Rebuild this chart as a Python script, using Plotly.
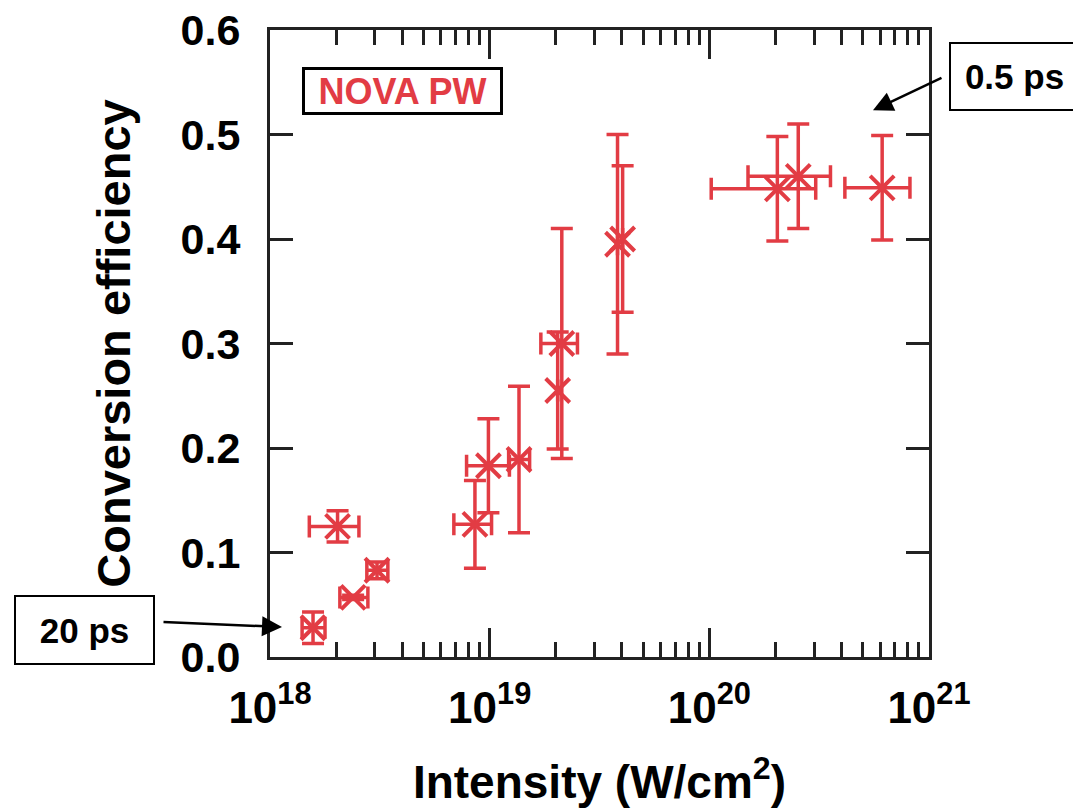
import plotly.graph_objects as go

# ---- data ----
intensity = [1.57e18, 2.03e18, 2.39e18, 3.07e18, 8.57e18, 9.87e18, 1.36e19,
             2.04e19, 2.13e19, 3.82e19, 4.03e19, 2.04e20, 2.54e20, 6.12e20]
int_low = [1.40e18, 1.51e18, 2.08e18, 2.76e18, 6.87e18, 7.85e18, 1.22e19,
           2.04e19, 1.71e19, 3.82e19, 4.03e19, 1.02e20, 1.50e20, 4.14e20]
int_high = [1.78e18, 2.54e18, 2.79e18, 3.44e18, 1.02e19, 1.23e19, 1.52e19,
            2.04e19, 2.51e19, 3.82e19, 4.03e19, 3.05e20, 3.56e20, 8.19e20]
efficiency = [0.028, 0.125, 0.057, 0.083, 0.127, 0.183, 0.189,
              0.255, 0.300, 0.395, 0.400, 0.448, 0.460, 0.449]
eff_err = [0.015, 0.015, 0.002, 0.008, 0.042, 0.045, 0.070,
           0.056, 0.110, 0.105, 0.070, 0.050, 0.050, 0.050]

x_tickvals = [1e18, 1e19, 1e20, 1e21]
x_ticktext = ["10<sup>18</sup>", "10<sup>19</sup>", "10<sup>20</sup>", "10<sup>21</sup>"]
y_tickvals = [0.0, 0.1, 0.2, 0.3, 0.4, 0.5, 0.6]
y_ticktext = ["0.0", "0.1", "0.2", "0.3", "0.4", "0.5", "0.6"]

RED = "#E23C44"
FONT = "Liberation Sans, Arial, Helvetica, sans-serif"

err_plus = [h - v for h, v in zip(int_high, intensity)]
err_minus = [v - l for l, v in zip(int_low, intensity)]

fig = go.Figure()
fig.add_trace(go.Scatter(
    x=intensity, y=efficiency, mode="markers",
    marker=dict(symbol="x-thin-open", size=24, color=RED,
                line=dict(color=RED, width=4)),
    error_y=dict(type="data", array=eff_err, visible=True, color=RED,
                 thickness=3.5, width=11),
    error_x=dict(type="data", array=err_plus, arrayminus=err_minus,
                 visible=True, color=RED, thickness=3.5, width=11),
    showlegend=False,
))

axis_common = dict(showline=True, linecolor="#222222", linewidth=3,
                   mirror="ticks", ticks="inside", tickcolor="#222222",
                   showgrid=False, zeroline=False, ticklabeloverflow="allow",
                   automargin=False)

fig.update_xaxes(
    type="log", range=[18, 21], tickvals=x_tickvals, ticktext=x_ticktext,
    ticklen=29, tickwidth=3,
    minor=dict(ticks="inside", ticklen=15, tickwidth=3, tickcolor="#222222",
               dtick="D1", showgrid=False),
    tickfont=dict(family=FONT, size=44, color="black", weight="bold"),
    ticklabelstandoff=10,
    title=dict(text="<b>Intensity (W/cm<sup>2</sup>)</b>",
               font=dict(family=FONT, size=46, color="black"), standoff=36),
    **axis_common,
)
fig.update_yaxes(
    range=[0, 0.6], tickvals=y_tickvals, ticktext=y_ticktext,
    ticklen=23, tickwidth=3,
    tickfont=dict(family=FONT, size=43, color="black", weight="bold"),
    ticklabelstandoff=18,
    title=dict(text="<b>Conversion efficiency</b>",
               font=dict(family=FONT, size=47, color="black"), standoff=36),
    **axis_common,
)

annots = [
    dict(text="<b>NOVA PW</b>", x=0.201, y=0.9027, xref="paper", yref="paper",
         showarrow=False, font=dict(family=FONT, size=36, color=RED),
         bordercolor="black", borderwidth=3, borderpad=0, bgcolor="white",
         width=195, height=42, xanchor="center", yanchor="middle"),
    dict(text="<b>20 ps</b>", x=-0.2815, y=0.0431, xref="paper", yref="paper",
         showarrow=False, font=dict(family=FONT, size=35, color="black"),
         bordercolor="black", borderwidth=2, borderpad=0, bgcolor="white",
         width=137, height=66, xanchor="center", yanchor="middle"),
    dict(text="<b>0.5 ps</b>", x=1.1298, y=0.9258, xref="paper", yref="paper",
         showarrow=False, font=dict(family=FONT, size=35, color="black"),
         bordercolor="black", borderwidth=2, borderpad=0, bgcolor="white",
         width=127, height=65, xanchor="center", yanchor="middle"),
    dict(text="", x=0.0182, y=0.0478, xref="paper", yref="paper",
         showarrow=True, ax=-120, ay=-5, arrowhead=2, arrowsize=1.6,
         arrowwidth=2.5, arrowcolor="black"),
    dict(text="", x=0.915, y=0.872, xref="paper", yref="paper",
         showarrow=True, ax=70, ay=-33, arrowhead=2, arrowsize=1.6,
         arrowwidth=2.5, arrowcolor="black"),
]
fig.update_layout(
    width=1081, height=812,
    margin=dict(l=262, r=160, t=22, b=163, autoexpand=False),
    paper_bgcolor="white", plot_bgcolor="white",
    font=dict(family=FONT, color="black"),
    annotations=annots,
)

fig.write_html("out.html")
